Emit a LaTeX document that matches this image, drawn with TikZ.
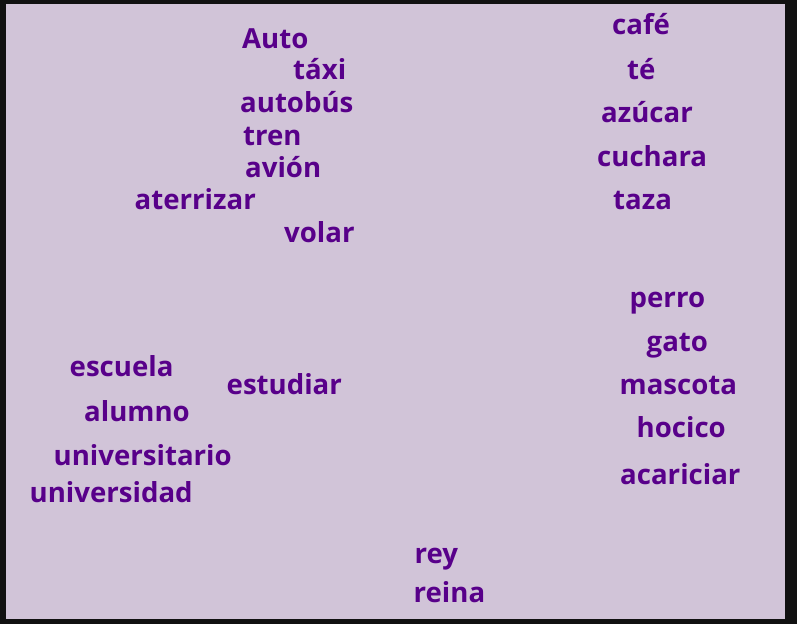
\documentclass[tikz,border=0pt]{standalone}
\usepackage{fontspec}
\setmainfont{Open Sans}
\usepackage{xcolor}
\usepackage{tikz}
\definecolor{frameclr}{HTML}{111111}
\definecolor{lavbg}{HTML}{D1C4D8}
\definecolor{wordclr}{HTML}{58008A}
\tikzset{
  word/.style ={anchor=base west, inner sep=0pt, text=wordclr, font=\fontsize{27.6}{32}\selectfont\bfseries},
}
\begin{document}
\begin{tikzpicture}[x=1pt, y=-1pt]
  \fill[frameclr] (0,0) rectangle (797,624);
  \fill[lavbg] (6,4) rectangle (785,619);
  \useasboundingbox (0,0) rectangle (797,624);

  % transport
  \node[word] (auto)    at (242,48)    {Auto};
  \node[word] (taxi)    at (293,79)    {táxi};
  \node[word] (autobus) at (240,112)   {autobús};
  \node[word] (tren)    at (243,145.5) {tren};
  \node[word] (avion)   at (245,177)   {avión};
  \node[word] (aterr)   at (134.5,209.5) {aterrizar};
  \node[word] (volar)   at (284,242)   {volar};

  % coffee
  \node[word] (cafe)    at (612,34.8)  {café};
  \node[word] (te)      at (627,79)    {té};
  \node[word] (azucar)  at (601,122)   {azúcar};
  \node[word] (cuchara) at (597,166)   {cuchara};
  \node[word] (taza)    at (613,209)   {taza};

  % pets
  \node[word] (perro)   at (629.5,307.5) {perro};
  \node[word] (gato)    at (646.5,351)   {gato};
  \node[word] (mascota) at (619.5,394.5) {mascota};
  \node[word] (hocico)  at (636.5,437.5) {hocico};
  \node[word] (acaric)  at (620,484.5)   {acariciar};

  % school
  \node[word] (escuela) at (69.5,376.5) {escuela};
  \node[word] (estud)   at (226.5,394.5) {estudiar};
  \node[word] (alumno)  at (84,421)     {alumno};
  \node[word] (univtar) at (53.5,465.5) {universitario};
  \node[word] (univdad) at (29.5,502.5) {universidad};

  % royals
  \node[word] (rey)     at (414.5,563)  {rey};
  \node[word] (reina)   at (413.5,602)  {reina};
\end{tikzpicture}
\end{document}
